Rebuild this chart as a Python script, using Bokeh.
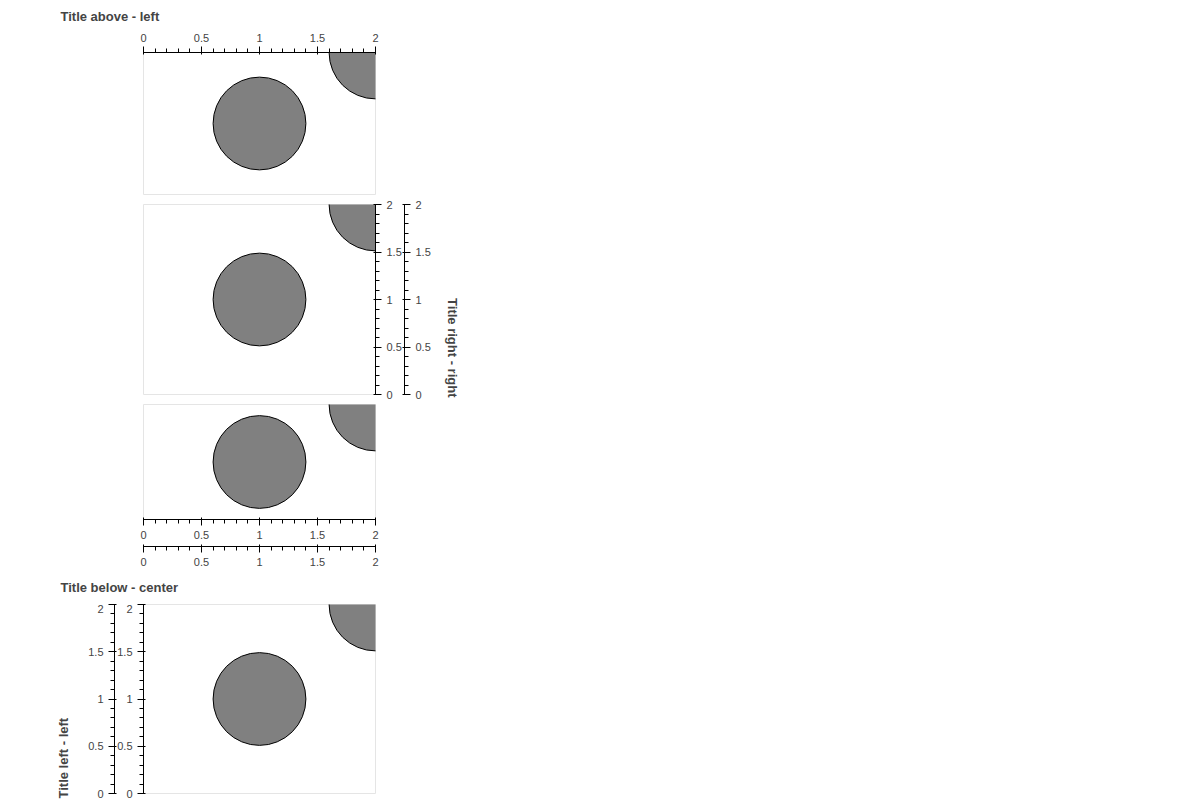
from bokeh.plotting import figure
from bokeh.layouts import column
from bokeh.models import LinearAxis
from bokeh.embed import file_html
from bokeh.resources import INLINE

xs = [1, 2]
ys = [1, 2]
titles = ["Title above - left", "Title right - right", "Title below - center", "Title left - left"]
locations = ["above", "right", "below", "left"]
aligns = ["left", "right", "left", "left"]
n_axes = [1, 2, 2, 2]

# per-plot layout: (height, border top, bottom, title offset, title standoff)
layouts = [
    (200, 52, 6, -83, 13),
    (200, 4, 6, -3, 22),
    (204, 4, 83, -83, 19),
    (196, 0, 7, -5, 30),
]

plots = []
for title, loc, align, n, lay in zip(titles, locations, aligns, n_axes, layouts):
    h, bt, bb, off, so = lay
    p = figure(width=472, height=h, x_range=(0, 2), y_range=(0, 2),
               x_axis_location=None, y_axis_location=None,
               toolbar_location=None, output_backend="svg",
               title=title, title_location=loc,
               min_border_left=143, min_border_right=97,
               min_border_top=bt, min_border_bottom=bb)
    p.title.align = align
    p.title.offset = off
    p.title.standoff = so
    p.xgrid.visible = False
    p.ygrid.visible = False
    p.circle(xs, ys, radius=0.4, fill_color="gray", line_color="black")
    for i in range(n):
        ax = LinearAxis()
        if loc == "below" and i == 0:
            ax.axis_label = " "
            ax.axis_label_text_font_size = "1px"
            ax.axis_label_standoff = 1
        p.add_layout(ax, loc)
    plots.append(p)

g = column(plots, spacing=0)
open("out.html", "w").write(file_html(g, INLINE))
